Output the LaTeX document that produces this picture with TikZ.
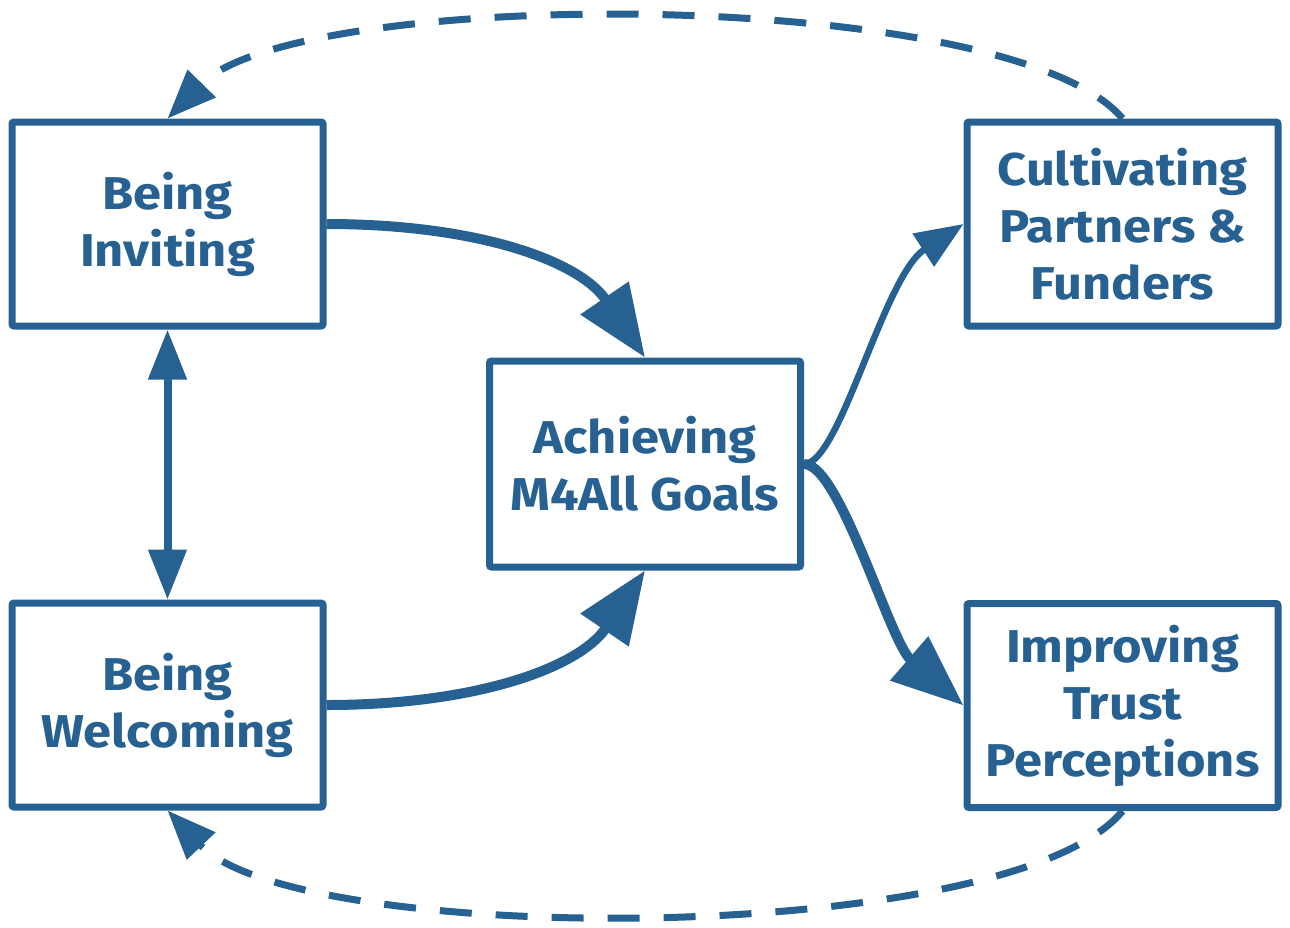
\documentclass[tikz,border=0pt]{standalone}
\usepackage{fontspec}
\setmainfont{Fira Sans}[FakeStretch=1.1]
\usetikzlibrary{arrows.meta}
\definecolor{mblue}{RGB}{38,97,145}
\begin{document}
\begin{tikzpicture}[x=1pt,y=-1pt,
  box/.style={draw=mblue, line width=7pt, rounded corners=2pt, minimum width=311pt, minimum height=204pt, inner sep=0pt, align=center, text=mblue, font=\bfseries\fontsize{46}{57}\selectfont},
  thick arrow/.style={draw=mblue, line width=10pt, -{Triangle[length=72pt,width=56pt]}},
  thin arrow/.style={draw=mblue, line width=6.5pt, -{Triangle[length=48pt,width=38pt]}},
  dash arrow/.style={draw=mblue, line width=7pt, dash pattern=on 32pt off 24pt, -{Triangle[length=49pt,width=38pt]}},
  both arrow/.style={draw=mblue, line width=8pt, {Triangle[length=50pt,width=37pt]}-{Triangle[length=50pt,width=37pt]}}
]
\useasboundingbox (0,0) rectangle (1290,927);
\node[box] (inv) at (167.5,224) {Being\\Inviting};
\node[box] (wel) at (167.5,705) {Being\\Welcoming};
\node[box, minimum height=206pt] (ach) at (645,464) {Achieving\\M4All Goals};
\node[box] (cul) at (1122.5,224) {Cultivating\\Partners \&\\Funders};
\node[box] (imp) at (1122.5,705.5) {Improving\\Trust\\Perceptions};

\draw[thick arrow] (inv.east) .. controls +(150,0) and +(-66,-97) .. (ach.north);
\draw[thick arrow] (wel.east) .. controls +(150,0) and +(-66,97) .. (ach.south);
\draw[thin arrow] (ach.east) .. controls +(36,0) and +(-80,52) .. (cul.west);
\draw[thick arrow] (ach.east) .. controls +(36,0) and +(-74,-64) .. (imp.west);
\draw[both arrow] (inv.south) -- (wel.north);
\draw[dash arrow] (cul.north) .. controls +(-112,-133) and +(130,-133) .. (inv.north);
\draw[dash arrow] (imp.south) .. controls +(-112,137) and +(130,137) .. (wel.south);
\end{tikzpicture}
\end{document}
